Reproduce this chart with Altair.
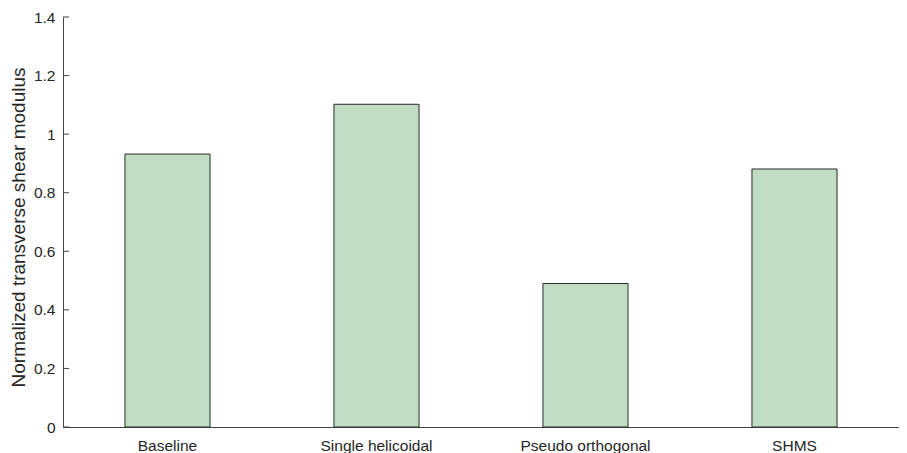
import altair as alt
import pandas as pd

categories = ["Baseline", "Single helicoidal", "Pseudo orthogonal", "SHMS"]
values = [0.932, 1.102, 0.49, 0.881]
tick_values = [0, 0.2, 0.4, 0.6, 0.8, 1.0, 1.2, 1.4]

df = pd.DataFrame({"cat": categories, "val": values})
ticks_df = pd.DataFrame({"t": tick_values})

yscale = alt.Scale(domain=[0, 1.4], nice=False, zero=True)

bars = alt.Chart(df).mark_bar(
    color="#c1dec5", stroke="#2a2a2a", strokeWidth=1,
    width=alt.RelativeBandSize(0.407)
).encode(
    x=alt.X("cat:N", sort=categories, title=None,
            scale=alt.Scale(paddingInner=0, paddingOuter=0),
            axis=alt.Axis(labelAngle=0, ticks=False, domain=True, domainColor="#444444",
                          labelFont="Liberation Sans", labelFontSize=15.5, labelColor="#262626",
                          labelPadding=11)),
    y=alt.Y("val:Q", scale=yscale, title="Normalized transverse shear modulus",
            axis=alt.Axis(values=tick_values, grid=False, ticks=False, domainColor="#444444",
                          labelFont="Liberation Sans", labelFontSize=15.5, labelColor="#262626",
                          labelPadding=8, titleFont="Liberation Sans", titleFontSize=19,
                          titleFontWeight="normal", titleColor="#262626", titlePadding=5,
                          titleY=210,
                          labelExpr="datum.value == 0 ? '0' : datum.value == 1 ? '1' : format(datum.value, '.1f')"))
)

tick_marks = alt.Chart(ticks_df).mark_rule(color="#444444", strokeWidth=1).encode(
    y=alt.Y("t:Q", scale=yscale),
    x=alt.value(0),
    x2=alt.value(6),
)

chart = alt.layer(bars, tick_marks).properties(
    width=836, height=410,
    autosize=alt.AutoSizeParams(type="none"),
    padding={"left": 55, "top": 9, "right": 0, "bottom": 26},
).configure_view(stroke=None)

chart.save("out.html", embed_options={"renderer": "svg", "actions": False})
